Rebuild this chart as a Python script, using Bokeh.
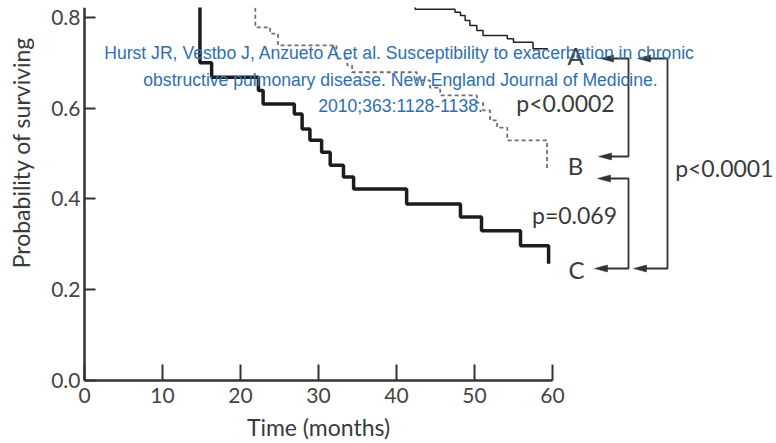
import math
from bokeh.plotting import figure
from bokeh.models import Range1d, FixedTicker, NumeralTickFormatter, Label
from bokeh.embed import file_html
from bokeh.resources import INLINE

# ---------------- data ----------------
months_A = [0, 42.4, 47.5, 48.2, 48.8, 49.4, 50.3, 51.1, 54.2, 55.0, 57.5, 59.4]
surv_A = [1.0, 0.818, 0.811, 0.804, 0.793, 0.782, 0.771, 0.760, 0.753, 0.745, 0.731, 0.731]

months_B = [0, 21.9, 23.8, 24.8, 32.3, 33.7, 34.3, 42.6, 44.3, 45.6, 50.3, 51.1, 52.0, 52.9, 54.2, 59.3]
surv_B = [1.0, 0.778, 0.764, 0.738, 0.709, 0.694, 0.679, 0.661, 0.645, 0.628, 0.612, 0.595, 0.573, 0.557, 0.529, 0.463]

months_C = [0, 14.8, 16.3, 22.3, 22.9, 26.9, 27.9, 28.9, 30.4, 31.5, 33.2, 34.5, 41.3, 48.2, 50.9, 55.9, 59.5]
surv_C = [1.0, 0.70, 0.668, 0.639, 0.609, 0.587, 0.554, 0.529, 0.503, 0.474, 0.448, 0.422, 0.389, 0.36, 0.33, 0.297, 0.257]

x_ticks = [0, 10, 20, 30, 40, 50, 60]
y_ticks = [0.0, 0.2, 0.4, 0.6, 0.8]
group_labels = ["A", "B", "C"]
p_labels = ["p<0.0002", "p=0.069", "p<0.0001"]
x_title = "Time (months)"
y_title = "Probability of surviving"
citation = [
    "Hurst JR, Vestbo J, Anzueto A et al. Susceptibility to exacerbation in chronic",
    "obstructive pulmonary disease. New England Journal of Medicine.",
    "2010;363:1128-1138.",
]

# ---------------- layout ----------------
# The frame covers the whole picture (below a 7px strip at the top); the axes are
# pinned at x=0 / y=0 inside it, so every text can live in the frame.
W, H = 776, 443
TOP = 7
AX_LEFT_PX, AX_BOTTOM_PX = 84, 380   # picture pixels of the x=0 and y=0 axis lines
PX_PER_MONTH = 7.8
PX_PER_UNIT = 454.0


def X(px):  # picture pixel -> data x
    return (px - AX_LEFT_PX) / PX_PER_MONTH


def Y(py):  # picture pixel -> data y
    return (AX_BOTTOM_PX - py) / PX_PER_UNIT


TEXT = "#3a3a3a"
FONT = "Lato"

p = figure(width=W, height=H, x_range=Range1d(X(0), X(W)), y_range=Range1d(Y(H), Y(TOP)),
           output_backend="svg", toolbar_location=None,
           min_border_left=0, min_border_right=0, min_border_top=TOP, min_border_bottom=0)
p.outline_line_color = None
p.xgrid.grid_line_color = None
p.ygrid.grid_line_color = None
p.background_fill_color = "white"

for ax in (p.xaxis, p.yaxis):
    ax.fixed_location = 0
    ax.axis_line_width = 2.5
    ax.axis_line_color = "#333333"
    ax.major_tick_line_color = "#333333"
    ax.major_tick_line_width = 2
    ax.major_tick_out = 0
    ax.minor_tick_line_color = None
    ax.major_label_text_font = FONT
    ax.major_label_text_font_size = "21px"
    ax.major_label_text_color = "#444444"

p.xaxis.ticker = FixedTicker(ticks=x_ticks)
p.yaxis.ticker = FixedTicker(ticks=y_ticks)
p.xaxis.bounds = (0, 60)
p.yaxis.bounds = (0, Y(TOP))
p.xaxis.major_tick_in = 16
p.yaxis.major_tick_in = 11
p.xaxis.major_label_standoff = 7
p.yaxis.major_label_standoff = 4
p.yaxis.formatter = NumeralTickFormatter(format="0.0")
p.xaxis.formatter = NumeralTickFormatter(format="0")

# axis titles
p.add_layout(Label(x=X(318), y=Y(426), text=x_title, text_align="center", text_baseline="middle",
                   text_font=FONT, text_font_size="23px", text_color=TEXT))
p.add_layout(Label(x=X(20), y=Y(152), text=y_title, angle=math.pi / 2, text_align="center",
                   text_baseline="middle", text_font=FONT, text_font_size="23px", text_color=TEXT))

# survival curves
p.step(months_C, surv_C, mode="after", line_color="#1c1c1c", line_width=3.5)
p.step(months_B, surv_B, mode="after", line_color="#707070", line_width=1.8, line_dash="4 3")
p.step(months_A, surv_A, mode="after", line_color="#222222", line_width=1.5)

# group letters
for lab, (lx, ly) in zip(group_labels, [(575, 55), (575, 165), (576, 269)]):
    p.add_layout(Label(x=X(lx), y=Y(ly), text=lab, text_align="center", text_baseline="middle",
                       text_font=FONT, text_font_size="24px", text_color=TEXT))

# p-values
p.add_layout(Label(x=X(565), y=Y(102), text=p_labels[0], text_align="center", text_baseline="middle",
                   text_font=FONT, text_font_size="23px", text_color=TEXT))
p.add_layout(Label(x=X(574), y=Y(214), text=p_labels[1], text_align="center", text_baseline="middle",
                   text_font=FONT, text_font_size="23px", text_color=TEXT))
p.add_layout(Label(x=X(773), y=Y(167), text=p_labels[2], text_align="right", text_baseline="middle",
                   text_font=FONT, text_font_size="23px", text_color=TEXT))

# brackets with arrows (picture-pixel geometry of the annotation)
brackets = [
    ((600, 58), (628, 58), (628, 156), (598, 156)),
    ((597, 178), (628, 178), (628, 268), (594, 268)),
    ((637, 58), (667, 58), (667, 268), (633, 268)),
]
AL, AW = 13, 3.5
for pts in brackets:
    xs = [X(a) for a, b in pts]
    ys = [Y(b) for a, b in pts]
    xs_line = [X(pts[0][0] + AL - 1)] + xs[1:3] + [X(pts[3][0] + AL - 1)]
    p.line(xs_line, ys, line_color="#333333", line_width=1.8)
    for (tx, ty) in (pts[0], pts[3]):
        p.patch([X(tx), X(tx + AL), X(tx + AL)], [Y(ty), Y(ty - AW), Y(ty + AW)],
                fill_color="#333333", line_color="#333333", line_width=0.5)

# citation overlay
for line, cy in zip(citation, [52, 79, 105]):
    p.add_layout(Label(x=X(400), y=Y(cy), text=line, text_align="center", text_baseline="middle",
                       text_font="Liberation Sans", text_font_size="17.6px", text_color="#2f6fae"))

open("out.html", "w").write(file_html(p, INLINE))
